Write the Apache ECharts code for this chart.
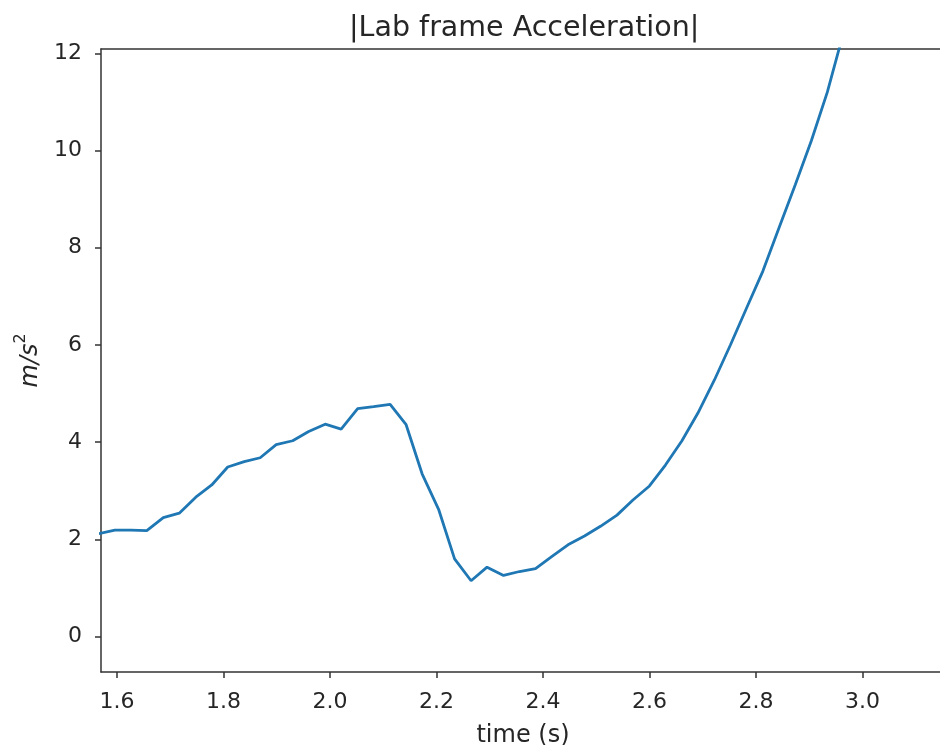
<!DOCTYPE html>
<html>
<head>
<meta charset="utf-8">
<script src="https://cdn.jsdelivr.net/npm/echarts@6/dist/echarts.min.js"></script>
<style>
  html, body { margin: 0; padding: 0; background: #fff; }
  #chart { width: 940px; height: 745px; }
</style>
</head>
<body>
<div id="chart"></div>
<script>
// sample times (s) and |acceleration| (m/s^2)
var times = [
  1.566, 1.596, 1.626, 1.656, 1.687, 1.717, 1.748, 1.778, 1.808, 1.839,
  1.869, 1.899, 1.930, 1.960, 1.991, 2.021, 2.052, 2.082, 2.113, 2.143,
  2.173, 2.204, 2.234, 2.265, 2.295, 2.326, 2.356, 2.386, 2.417, 2.447,
  2.478, 2.508, 2.539, 2.569, 2.600, 2.630, 2.661, 2.691, 2.722, 2.752,
  2.782, 2.813, 2.843, 2.874, 2.904, 2.934, 2.965
];
var accel = [
  2.12, 2.19, 2.19, 2.18, 2.45, 2.54, 2.87, 3.12, 3.49, 3.60,
  3.68, 3.95, 4.03, 4.22, 4.37, 4.27, 4.69, 4.73, 4.78, 4.36,
  3.35, 2.62, 1.60, 1.15, 1.43, 1.26, 1.34, 1.40, 1.65, 1.89,
  2.07, 2.27, 2.50, 2.81, 3.10, 3.53, 4.03, 4.60, 5.28, 6.00,
  6.75, 7.52, 8.40, 9.30, 10.20, 11.20, 12.45
];
var xTicks = [1.6, 1.8, 2.0, 2.2, 2.4, 2.6, 2.8, 3.0];
var yTicks = [0, 2, 4, 6, 8, 10, 12];

var chart = echarts.init(document.getElementById('chart'));
var font = 'DejaVu Sans';
var ink = '#262626';
var spine = '#333333';

var points = times.map(function (t, i) { return [t, accel[i]]; });

var option = {
  animation: false,
  backgroundColor: '#fff',
  title: {
    text: '|Lab frame Acceleration|',
    left: 344,
    top: 9,
    textStyle: { fontFamily: font, fontSize: 28.5, fontWeight: 'normal', color: ink }
  },
  grid: {
    left: 101, right: -5, top: 49, bottom: 73,
    outerBoundsMode: 'none',
    containLabel: false,
    show: false
  },
  xAxis: [{
    type: 'value',
    min: 1.570, max: 3.155,
    name: 'time (s)',
    nameLocation: 'middle',
    nameGap: 52,
    nameTextStyle: { fontFamily: font, fontSize: 24, color: ink },
    axisLine: { show: true, onZero: false, lineStyle: { color: spine, width: 1.5 } },
    axisTick: { show: true, length: 6, lineStyle: { color: spine, width: 1.5 }, customValues: xTicks },
    axisLabel: {
      customValues: xTicks, margin: 19,
      fontFamily: font, fontSize: 22, color: ink,
      formatter: function (v) { return v.toFixed(1); }
    },
    splitLine: { show: false }
  }, {
    // top spine only
    type: 'value',
    position: 'top',
    min: 1.570, max: 3.155,
    axisLine: { show: true, onZero: false, lineStyle: { color: spine, width: 1.5 } },
    axisTick: { show: false },
    axisLabel: { show: false },
    splitLine: { show: false }
  }],
  yAxis: {
    type: 'value',
    min: -0.727, max: 12.088,
    name: '{i|m/s}{s|2}',
    nameLocation: 'middle',
    nameRotate: 90,
    nameGap: 53,
    nameTextStyle: {
      fontFamily: font, color: ink,
      rich: {
        i: { fontFamily: font, fontStyle: 'italic', fontSize: 24, color: ink, lineHeight: 30, verticalAlign: 'bottom' },
        s: { fontFamily: font, fontSize: 16, color: ink, lineHeight: 30, verticalAlign: 'top' }
      }
    },
    axisLine: { show: true, onZero: false, lineStyle: { color: spine, width: 1.5 } },
    axisTick: { show: true, length: 6, lineStyle: { color: spine, width: 1.5 }, customValues: yTicks },
    axisLabel: {
      customValues: yTicks, margin: 19,
      fontFamily: font, fontSize: 22, color: ink
    },
    splitLine: { show: false }
  },
  series: [{
    type: 'line',
    data: points,
    showSymbol: false,
    clip: true,
    lineStyle: { color: '#1f77b4', width: 2.8 }
  }]
};

chart.setOption(option);
</script>
</body>
</html>
